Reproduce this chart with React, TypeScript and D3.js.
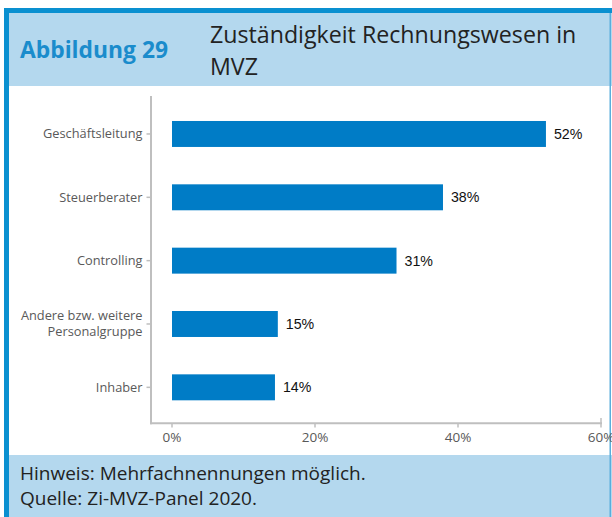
import React from "react";
import * as d3 from "d3";

const categories = ["Geschäftsleitung", "Steuerberater", "Controlling", "Andere bzw. weitere|Personalgruppe", "Inhaber"];
const values = [52.3, 37.9, 31.4, 14.8, 14.4];
const xTicks = [0, 20, 40, 60];
const figureLabel = "Abbildung 29";
const titleLines = ["Zuständigkeit Rechnungswesen in", "MVZ"];
const noteLines = ["Hinweis: Mehrfachnennungen möglich.", "Quelle: Zi-MVZ-Panel 2020."];

const W = 612;
const H = 517;
const FONT = "'Open Sans', 'Noto Sans', sans-serif";

export default function App() {
  const x = d3.scaleLinear().domain([0, 60]).range([172, 601]);
  const y = d3
    .scaleBand<string>()
    .domain(categories)
    .range([102.3, 419])
    .paddingInner(0.59)
    .paddingOuter(0.295);

  const axisColor = "#bfbfbf";
  const labelColor = "#595959";

  return (
    <svg
      width={W}
      height={H}
      style={{ position: "absolute", left: 0, top: 0, background: "#fff" }}
      fontFamily={FONT}
    >
      {/* header and footer */}
      <rect x={4} y={8} width={608} height={78} fill="#b4d8ee" />
      <rect x={4} y={455} width={608} height={62} fill="#b4d8ee" />
      <rect x={4} y={8} width={608} height={5} fill="#0a90d0" />
      <rect x={4} y={8} width={5} height={509} fill="#0a90d0" />
      <rect x={609.5} y={13} width={1.5} height={504} fill="#5aaedc" />

      <text x={20} y={58} fill="#1a8ccc" fontSize={22.5} fontWeight={700} textLength={148} lengthAdjust="spacingAndGlyphs">
        {figureLabel}
      </text>
      {titleLines.map((t, i) => (
        <text key={i} x={210} y={43 + i * 32} fill="#222" fontSize={23.2}>
          {t}
        </text>
      ))}
      {noteLines.map((t, i) => (
        <text key={i} x={20} y={480 + i * 25} fill="#222" fontSize={19}>
          {t}
        </text>
      ))}

      {/* axes */}
      <line x1={151} x2={151} y1={96} y2={424.3} stroke={axisColor} strokeWidth={2} />
      <line x1={150} x2={602} y1={423.3} y2={423.3} stroke={axisColor} strokeWidth={2} />
      {xTicks.map((t) => (
        <g key={t}>
          <line x1={x(t)} x2={x(t)} y1={423} y2={427.5} stroke={axisColor} strokeWidth={1.5} />
          {t === 60 && <line x1={x(t)} x2={x(t)} y1={418} y2={423} stroke={axisColor} strokeWidth={1.5} />}
          <text
            x={x(t)}
            y={442}
            textAnchor="middle"
            fill={labelColor}
            fontSize={13.5}
          >
            {t + "%"}
          </text>
        </g>
      ))}

      {categories.map((c, i) => {
        const yc = (y(c) as number) + y.bandwidth() / 2;
        const lines = c.split("|");
        return (
          <g key={c}>
            <line x1={146.5} x2={151} y1={yc} y2={yc} stroke={axisColor} strokeWidth={1.5} />
            {lines.map((l, j) => (
              <text
                key={j}
                x={142.5}
                y={yc + 4.5 + (j - (lines.length - 1) / 2) * 16}
                textAnchor="end"
                fill={labelColor}
                fontSize={12.8}
              >
                {l}
              </text>
            ))}
            <rect
              x={x(0)}
              y={y(c)}
              width={x(values[i]) - x(0)}
              height={y.bandwidth()}
              fill="#007cc6"
            />
            <text
              x={x(values[i]) + 8}
              y={yc + 5}
              fill="#111"
              fontSize={14.2}
              fontFamily="'Liberation Sans', Arial, sans-serif"
            >
              {Math.round(values[i]) + "%"}
            </text>
          </g>
        );
      })}
    </svg>
  );
}
